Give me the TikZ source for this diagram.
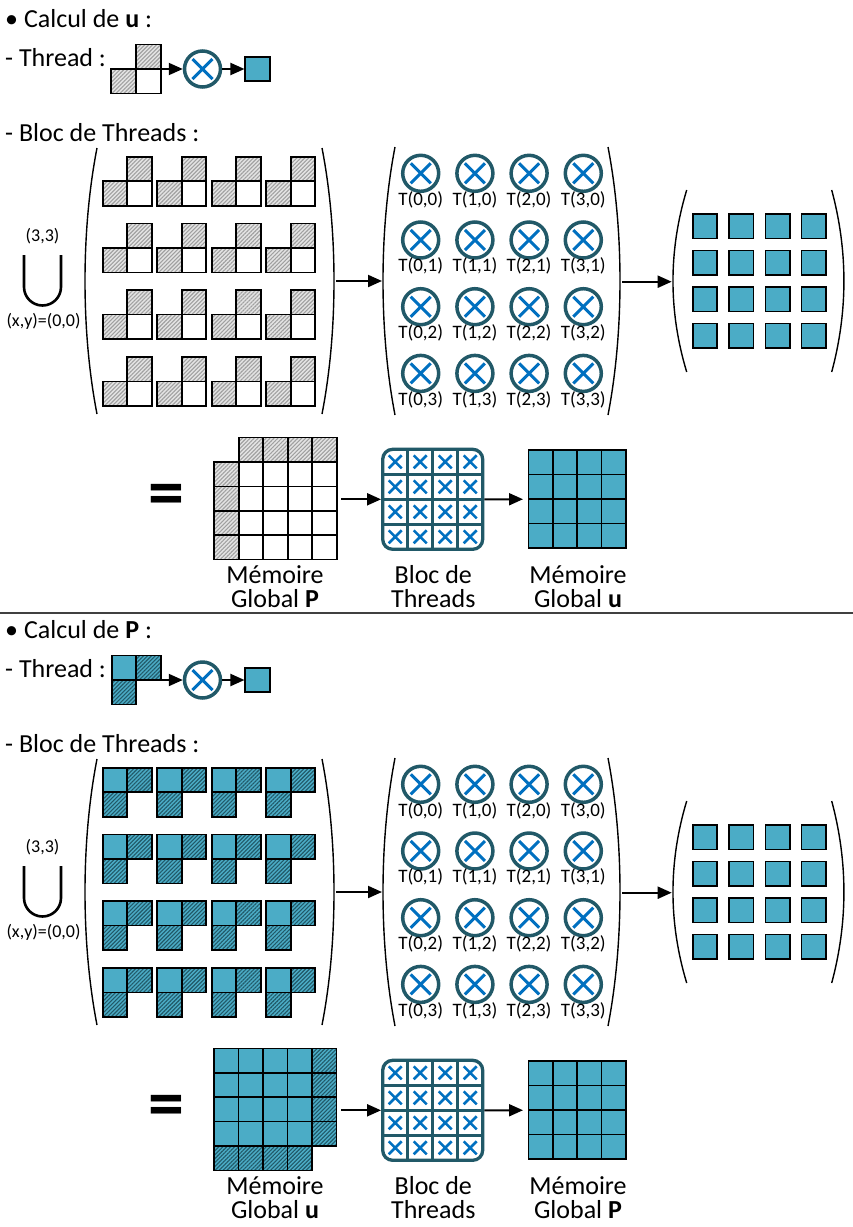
\documentclass[tikz,border=0pt]{standalone}
\usepackage{fontspec}
\setmainfont{Carlito}
\usetikzlibrary{arrows.meta,patterns.meta}
\definecolor{cblue}{HTML}{4BACC6}
\definecolor{cteal}{HTML}{215968}
\definecolor{xblue}{HTML}{0070C0}
\definecolor{hgray}{HTML}{A0A0A0}
\definecolor{hbg}{HTML}{E4E4E4}
\definecolor{sepgray}{HTML}{404040}
\tikzset{
  cell/.style={draw=black, line width=1.6pt},
  ghatch/.style={cell, preaction={fill=hbg}, pattern={Lines[angle=45,distance=2.8pt,line width=1.1pt]}, pattern color=hgray},
  bhatch/.style={cell, preaction={fill=cblue}, pattern={Lines[angle=45,distance=2.8pt,line width=1.1pt]}, pattern color=cteal},
  bcell/.style={cell, fill=cblue},
  wcell/.style={cell, fill=white},
  arr/.style={-{Triangle[length=14pt,width=12pt]}, line width=2pt},
  paren/.style={line width=1.4pt},
  opc/.style={circle, draw=cteal, line width=3.5pt, minimum size=36pt, inner sep=0pt, path picture={
      \draw[xblue, line width=3pt]
        ([shift={(-10pt,-10pt)}]path picture bounding box.center) -- ([shift={(10pt,10pt)}]path picture bounding box.center)
        ([shift={(-10pt,10pt)}]path picture bounding box.center) -- ([shift={(10pt,-10pt)}]path picture bounding box.center);}},
  res/.style={draw=black, fill=cblue, line width=1.6pt, minimum size=24.5pt, inner sep=0pt},
  txt/.style={font=\fontsize{26}{30}\selectfont, inner sep=0pt},
  lbl/.style={font=\fontsize{19}{21}\selectfont, inner sep=0pt},
  sml/.style={font=\fontsize{18}{20}\selectfont, inner sep=0pt},
  eqs/.style={font=\fontsize{72}{72}\selectfont\bfseries, inner sep=0pt},
  blocbox/.style={draw=cteal, line width=3.3pt, rounded corners=10pt, minimum size=100pt, inner sep=0pt},
  gridbox/.style={minimum size=98pt, inner sep=0pt},
  xmark/.style={xblue, line width=2.6pt},
  bloclines/.style={cteal, line width=2.7pt},
}
\begin{document}
\begin{tikzpicture}[x=1pt,y=-1pt]
\useasboundingbox (0,0) rectangle (853,1227);
\fill[white] (0,0) rectangle (853,1227);

% ================= Section A : Calcul de u =================
\node[txt, anchor=base west] (tA) at (5,27) {• Calcul de \textbf{u} :};
\node[txt, anchor=base west] (thA) at (5,66) {- Thread :};
\draw[ghatch] (136,44.5) rectangle (161,69);
\draw[ghatch] (111,69) rectangle (136,93.5);
\draw[wcell] (136,69) rectangle (161,93.5);
\coordinate (stA) at (161,69);
\node[opc] (opA) at (202.5,69) {};
\node[res] (rsA) at (257.5,69) {};
\draw[arr] (stA) -- (opA);
\draw[arr] (opA) -- (rsA);

\node[txt, anchor=base west] (bA) at (5,141) {- Bloc de Threads :};
\draw[line width=2.6pt] (24,255) -- (24,287) arc[start angle=180, end angle=0, radius=18.5] -- (61,255);
\node[sml, anchor=base] (uA1) at (42.5,241) {(3,3)};
\node[sml, anchor=base] (uA2) at (43.5,326) {(x,y)=(0,0)};

\foreach \i in {0,...,3} \foreach \j in {0,...,3} {
  \draw[ghatch] ({127.2+54.5*\i},{156.7+66.7*\j}) rectangle ++(24.5,24.5);
  \draw[ghatch] ({102.7+54.5*\i},{181.2+66.7*\j}) rectangle ++(24.5,24.5);
  \draw[wcell] ({127.2+54.5*\i},{181.2+66.7*\j}) rectangle ++(24.5,24.5);
}
\draw[paren] (97,148) .. controls (81,230) and (81,332) .. (97,414);
\draw[paren] (322,148) .. controls (338,230) and (338,332) .. (322,414);
\coordinate (mA1) at (336,281);
\coordinate (mA2) at (382,281);
\draw[arr] (mA1) -- (mA2);

\foreach \i in {0,...,3} \foreach \j in {0,...,3} {
  \node[opc] (cA\i\j) at ({420.7+54.2*\i},{173.3+66.7*\j}) {};
  \node[lbl, anchor=base] (lA\i\j) at ({420.7+54.2*\i},{205+66.7*\j}) {T(\i,\j)};
}
\draw[paren] (395,147) .. controls (379,230) and (379,332) .. (395,415);
\draw[paren] (608,147) .. controls (624,230) and (624,332) .. (608,415);
\coordinate (mA3) at (622,281.7);
\coordinate (mA4) at (671.7,281.7);
\draw[arr] (mA3) -- (mA4);

\foreach \i in {0,...,3} \foreach \j in {0,...,3} {
  \node[res] (rA\i\j) at ({705+36.3*\i},{226.4+36.4*\j}) {};
}
\draw[paren] (686.7,190) .. controls (668.4,250.7) and (668.4,311.3) .. (686.7,372);
\draw[paren] (831.7,190) .. controls (848,250.7) and (848,311.3) .. (831.7,372);

\node[eqs] (eqA) at (166.3,500) {=};
\foreach \i in {0,...,3} {
  \draw[ghatch] ({238.7+24.5*\i},437.6) rectangle ++(24.5,24.5);
  \draw[ghatch] (214.2,{462.1+24.3*\i}) rectangle ++(24.5,24.3);
}
\foreach \i in {0,...,3} \foreach \j in {0,...,3} {
  \draw[wcell] ({238.7+24.5*\i},{462.1+24.3*\j}) rectangle ++(24.5,24.3);
}
\coordinate (gA1) at (341,499.3);
\node[blocbox] (blA) at (432.7,499.3) {};
\foreach \k in {1,2,3} {
  \draw[bloclines] ({382.7+25*\k},449.3) -- ({382.7+25*\k},549.3);
  \draw[bloclines] (382.7,{449.3+25*\k}) -- (482.7,{449.3+25*\k});
}
\foreach \i in {0,...,3} \foreach \j in {0,...,3} {
  \draw[xmark] ({395.2+25*\i-6.5},{461.8+25*\j-6.5}) -- ++(13,13) ++(-13,0) -- ++(13,-13);
}
\node[gridbox] (guA) at (577.2,499.2) {};
\foreach \i in {0,...,3} \foreach \j in {0,...,3} {
  \draw[bcell] ({528.3+24.45*\i},{450+24.45*\j}) rectangle ++(24.45,24.45);
}
\draw[arr] (gA1) -- (blA);
\draw[arr, shorten >=5pt] (blA) -- (guA);
\node[txt, anchor=base] (mpA1) at (275,583) {Mémoire};
\node[txt, anchor=base] (mpA2) at (275,607) {Global \textbf{P}};
\node[txt, anchor=base] (btA1) at (433.3,583) {Bloc de};
\node[txt, anchor=base] (btA2) at (433.3,607) {Threads};
\node[txt, anchor=base] (muA1) at (578,583) {Mémoire};
\node[txt, anchor=base] (muA2) at (578,607) {Global \textbf{u}};

\draw[sepgray, line width=2pt] (0,613) -- (853,613);

% ================= Section B : Calcul de P =================
\begin{scope}[shift={(0,611)}]
\node[txt, anchor=base west] (tB) at (5,27) {• Calcul de \textbf{P} :};
\node[txt, anchor=base west] (thB) at (5,66) {- Thread :};
\draw[bcell] (112,44.5) rectangle (136,69);
\draw[bhatch] (136,44.5) rectangle (161,69);
\draw[bhatch] (112,69) rectangle (136,93.5);
\coordinate (stB) at (161,69);
\node[opc] (opB) at (202.5,69) {};
\node[res] (rsB) at (257.5,69) {};
\draw[arr] (stB) -- (opB);
\draw[arr] (opB) -- (rsB);

\node[txt, anchor=base west] (bB) at (5,141) {- Bloc de Threads :};
\draw[line width=2.6pt] (24,255) -- (24,287) arc[start angle=180, end angle=0, radius=18.5] -- (61,255);
\node[sml, anchor=base] (uB1) at (42.5,241) {(3,3)};
\node[sml, anchor=base] (uB2) at (43.5,326) {(x,y)=(0,0)};

\foreach \i in {0,...,3} \foreach \j in {0,...,3} {
  \draw[bcell] ({102.7+54.5*\i},{156.7+66.7*\j}) rectangle ++(24.5,24.5);
  \draw[bhatch] ({127.2+54.5*\i},{156.7+66.7*\j}) rectangle ++(24.5,24.5);
  \draw[bhatch] ({102.7+54.5*\i},{181.2+66.7*\j}) rectangle ++(24.5,24.5);
}
\draw[paren] (97,148) .. controls (81,230) and (81,332) .. (97,414);
\draw[paren] (322,148) .. controls (338,230) and (338,332) .. (322,414);
\coordinate (mB1) at (336,281);
\coordinate (mB2) at (382,281);
\draw[arr] (mB1) -- (mB2);

\foreach \i in {0,...,3} \foreach \j in {0,...,3} {
  \node[opc] (cB\i\j) at ({420.7+54.2*\i},{173.3+66.7*\j}) {};
  \node[lbl, anchor=base] (lB\i\j) at ({420.7+54.2*\i},{205+66.7*\j}) {T(\i,\j)};
}
\draw[paren] (395,147) .. controls (379,230) and (379,332) .. (395,415);
\draw[paren] (608,147) .. controls (624,230) and (624,332) .. (608,415);
\coordinate (mB3) at (622,281.7);
\coordinate (mB4) at (671.7,281.7);
\draw[arr] (mB3) -- (mB4);

\foreach \i in {0,...,3} \foreach \j in {0,...,3} {
  \node[res] (rB\i\j) at ({705+36.3*\i},{226.4+36.4*\j}) {};
}
\draw[paren] (686.7,190) .. controls (668.4,250.7) and (668.4,311.3) .. (686.7,372);
\draw[paren] (831.7,190) .. controls (848,250.7) and (848,311.3) .. (831.7,372);

\node[eqs] (eqB) at (166.3,500) {=};
\foreach \i in {0,...,3} \foreach \j in {0,...,3} {
  \draw[bcell] ({214.2+24.4*\i},{437.3+24.4*\j}) rectangle ++(24.4,24.4);
}
\foreach \i in {0,...,3} {
  \draw[bhatch] (311.8,{437.3+24.4*\i}) rectangle ++(24.5,24.4);
  \draw[bhatch] ({214.2+24.4*\i},534.9) rectangle ++(24.4,24.5);
}
\coordinate (gB1) at (341,499.3);
\node[blocbox] (blB) at (432.7,499.3) {};
\foreach \k in {1,2,3} {
  \draw[bloclines] ({382.7+25*\k},449.3) -- ({382.7+25*\k},549.3);
  \draw[bloclines] (382.7,{449.3+25*\k}) -- (482.7,{449.3+25*\k});
}
\foreach \i in {0,...,3} \foreach \j in {0,...,3} {
  \draw[xmark] ({395.2+25*\i-6.5},{461.8+25*\j-6.5}) -- ++(13,13) ++(-13,0) -- ++(13,-13);
}
\node[gridbox] (gpB) at (577.2,499.2) {};
\foreach \i in {0,...,3} \foreach \j in {0,...,3} {
  \draw[bcell] ({528.3+24.45*\i},{450+24.45*\j}) rectangle ++(24.45,24.45);
}
\draw[arr] (gB1) -- (blB);
\draw[arr, shorten >=5pt] (blB) -- (gpB);
\node[txt, anchor=base] (muB1) at (275,583) {Mémoire};
\node[txt, anchor=base] (muB2) at (275,607) {Global \textbf{u}};
\node[txt, anchor=base] (btB1) at (433.3,583) {Bloc de};
\node[txt, anchor=base] (btB2) at (433.3,607) {Threads};
\node[txt, anchor=base] (mpB1) at (578,583) {Mémoire};
\node[txt, anchor=base] (mpB2) at (578,607) {Global \textbf{P}};
\end{scope}
\end{tikzpicture}
\end{document}
